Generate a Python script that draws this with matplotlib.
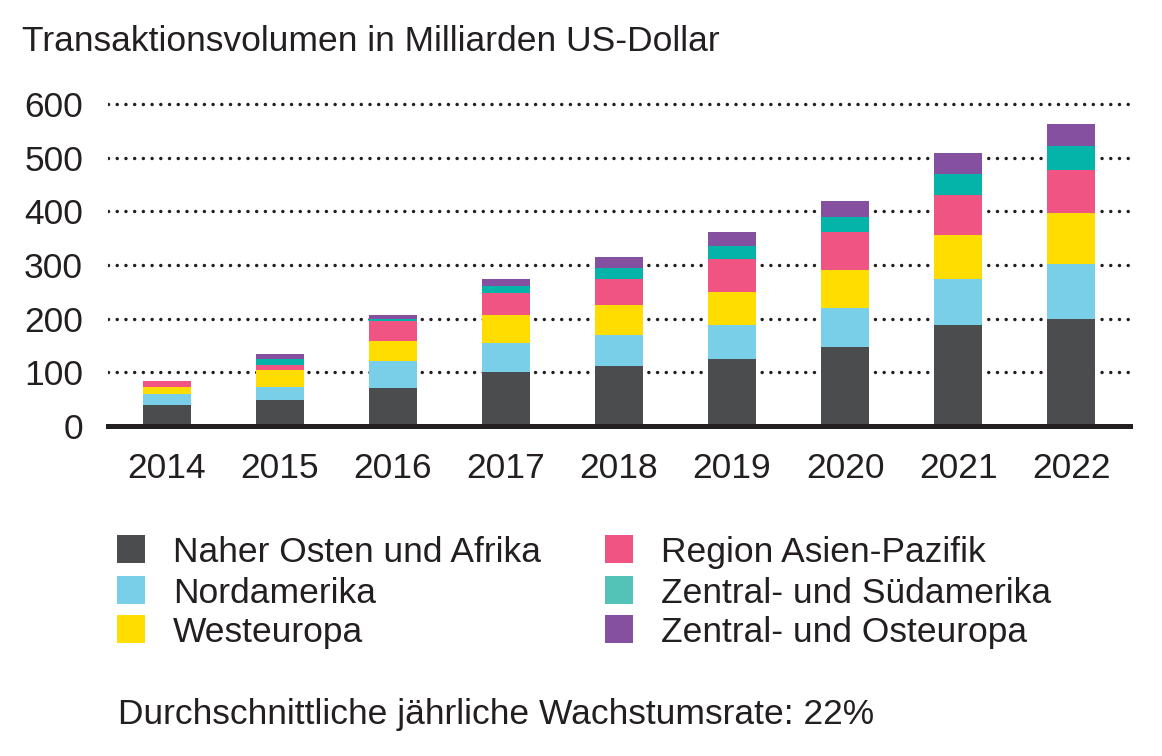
import matplotlib
matplotlib.use("Agg")
import matplotlib.pyplot as plt
from matplotlib.patches import Rectangle
import numpy as np

years = ["2014", "2015", "2016", "2017", "2018", "2019", "2020", "2021", "2022"]
naher_osten_afrika = [40, 49, 70, 100, 111, 125, 148, 189, 199]
nordamerika = [20, 24, 51, 55, 58, 64, 71, 84, 102]
westeuropa = [13, 31, 38, 51, 57, 61, 71, 82, 95]
asien_pazifik = [11, 10, 36, 41, 48, 62, 71, 75, 81]
zentral_suedamerika = [0, 11, 4, 13, 20, 23, 28, 40, 45]
zentral_osteuropa = [0, 10, 7, 13, 21, 27, 31, 38, 41]

labels = [
    "Naher Osten und Afrika",
    "Nordamerika",
    "Westeuropa",
    "Region Asien-Pazifik",
    "Zentral- und Südamerika",
    "Zentral- und Osteuropa",
]
series = [naher_osten_afrika, nordamerika, westeuropa,
          asien_pazifik, zentral_suedamerika, zentral_osteuropa]
bar_colours = ["#4b4c4e", "#7acfe8", "#ffdd00", "#ef5482", "#04b4a9", "#8650a0"]
legend_colours = ["#4b4c4e", "#7acfe8", "#ffdd00", "#ef5482", "#53c3b8", "#8650a0"]

TEXT = "#231f20"
FS = 25.5
plt.rcParams["font.family"] = ["Liberation Sans", "DejaVu Sans"]

W, H = 1162, 756
fig = plt.figure(figsize=(W / 100, H / 100), dpi=100)

# axes placed in pixel terms of the reference
left, right, bottom = 108, 1130, 426
ymax = 610
px_per_unit = (426 - 104) / 600
top = bottom - ymax * px_per_unit
ax = fig.add_axes([left / W, 1 - bottom / H, (right - left) / W, (bottom - top) / H])

x = np.arange(len(years))
base = np.zeros(len(years))
for vals, col in zip(series, bar_colours):
    ax.bar(x, vals, bottom=base, width=0.42, color=col, linewidth=0, zorder=2)
    base += np.array(vals)

ax.set_xlim(-0.52, 8.52)
ax.set_ylim(0, ymax)
ax.set_yticks(range(0, 601, 100))
ax.set_xticks(x)
ax.set_xticklabels(years)
ax.tick_params(axis="both", length=0, labelsize=FS, colors=TEXT)
ax.tick_params(axis="y", pad=18)
ax.tick_params(axis="x", pad=19)

for s in ["top", "right", "left"]:
    ax.spines[s].set_visible(False)
ax.spines["bottom"].set_linewidth(3.6)
ax.spines["bottom"].set_color(TEXT)
ax.spines["bottom"].set_zorder(3)

ax.set_axisbelow(True)
ax.grid(axis="y", color=TEXT, linewidth=2.5, linestyle=(0, (0.01, 2.5)),
        dash_capstyle="round")
ax.yaxis.get_gridlines()[0].set_visible(False)

fig.text(22 / W, 1 - 51 / H, "Transaktionsvolumen in Milliarden US-Dollar",
         fontsize=FS, color=TEXT, va="baseline", ha="left")

# legend, two columns
col_x = [117, 605]
text_x = [173, 661]
row_y = [549, 590, 629]
sq = 28
for i, (lab, col) in enumerate(zip(labels, legend_colours)):
    c, r = divmod(i, 3)
    fig.add_artist(Rectangle(((col_x[c]) / W, 1 - (row_y[r] + sq / 2) / H),
                             sq / W, sq / H, transform=fig.transFigure,
                             facecolor=col, edgecolor="none"))
    fig.text(text_x[c] / W, 1 - (row_y[r] + 13) / H, lab, fontsize=FS,
             color=TEXT, va="baseline", ha="left")

fig.text(118 / W, 1 - 724 / H, "Durchschnittliche jährliche Wachstumsrate: 22%",
         fontsize=FS, color=TEXT, va="baseline", ha="left")

fig.savefig("out.png", dpi=100, facecolor="white")
